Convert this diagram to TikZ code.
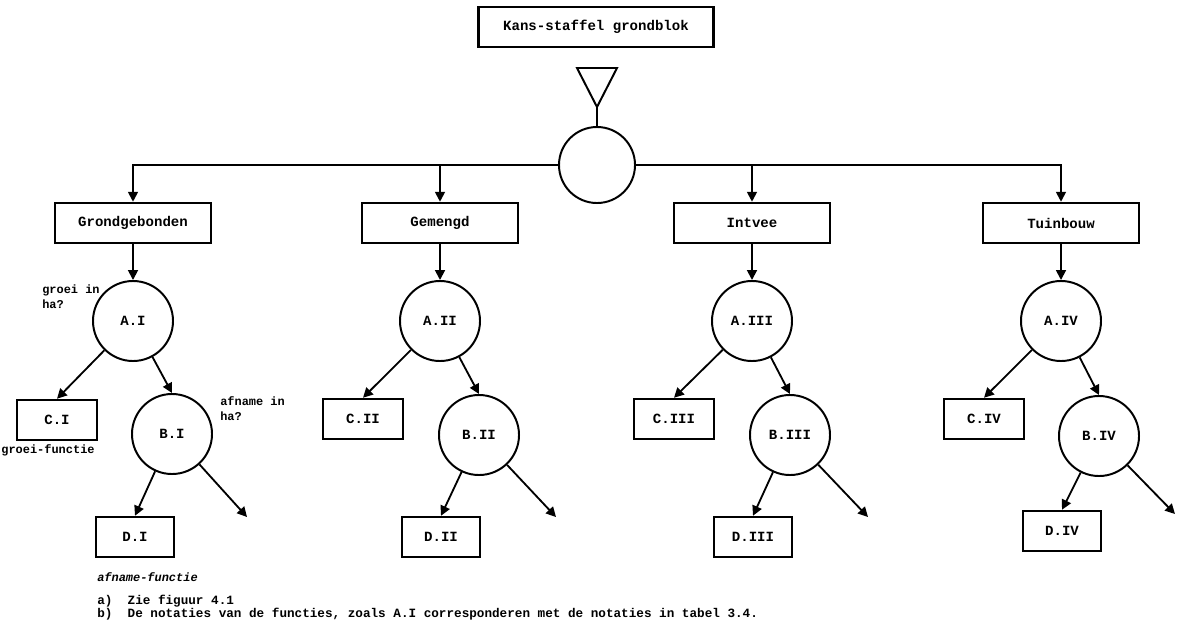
\documentclass[tikz,border=0pt]{standalone}
\usepackage{fontspec}
\setmonofont{Liberation Mono}
\usetikzlibrary{arrows.meta}

\begin{document}
\begin{tikzpicture}[x=0.025cm,y=-0.025cm,>={Triangle[length=7pt,width=7pt]},
  font=\ttfamily\bfseries\fontsize{10}{11}\selectfont,
  catbox/.style={rectangle,draw=black,line width=1.8pt,minimum width=3.9cm,minimum height=1cm,inner sep=2pt},
  funcbox/.style={rectangle,draw=black,line width=1.8pt,minimum width=1.95cm,minimum height=1cm,inner sep=2pt},
  choice/.style={circle,draw=black,line width=1.4pt,minimum size=2cm,inner sep=0pt},
  link/.style={->,draw=black,line width=1.3pt},
  note/.style={align=left,inner sep=0pt,font=\ttfamily\bfseries\fontsize{8.5}{10.5}\selectfont}]
\useasboundingbox (0,0) rectangle (1183,627);
% top of the tree
\node[catbox,minimum width=5.875cm] (top) at (596,27) {Kans-staffel grondblok};
\draw[line width=1.4pt] (577,68) -- (617,68) -- (597,107) -- cycle;
\coordinate (tip) at (597,107);
\node[choice,minimum size=1.9cm] (hub) at (597,165) {};
\draw[line width=1.3pt] (tip) -- (hub);
% the four categories
\node[catbox] (g1) at (133,223) {Grondgebonden};
\node[catbox] (g2) at (440,223) {Gemengd};
\node[catbox] (g3) at (752,223) {Intvee};
\node[catbox] (g4) at (1061,223) {Tuinbouw};
\draw[link] (hub.west) -| (g1.north);
\draw[link] (hub.west) -| (g2.north);
\draw[link] (hub.east) -| (g3.north);
\draw[link] (hub.east) -| (g4.north);
% column I
\node[choice] (a1) at (133,321) {A.I};
\node[funcbox,minimum width=2cm] (c1) at (57,420) {C.I};
\node[choice] (b1) at (172,434) {B.I};
\node[funcbox] (d1) at (135,537) {D.I};
\coordinate (e1) at (247,517);
% column II
\node[choice] (a2) at (440,321) {A.II};
\node[funcbox,minimum width=2cm] (c2) at (363,419) {C.II};
\node[choice] (b2) at (479,435) {B.II};
\node[funcbox] (d2) at (441,537) {D.II};
\coordinate (e2) at (556,517);
% column III
\node[choice] (a3) at (752,321) {A.III};
\node[funcbox,minimum width=2cm] (c3) at (674,419) {C.III};
\node[choice] (b3) at (790,435) {B.III};
\node[funcbox] (d3) at (753,537) {D.III};
\coordinate (e3) at (868,517);
% column IV
\node[choice] (a4) at (1061,321) {A.IV};
\node[funcbox,minimum width=2cm] (c4) at (984,419) {C.IV};
\node[choice] (b4) at (1099,436) {B.IV};
\node[funcbox] (d4) at (1062,531) {D.IV};
\coordinate (e4) at (1175,514);
\draw[link] (g1) -- (a1);
\draw[link] (g2) -- (a2);
\draw[link] (g3) -- (a3);
\draw[link] (g4) -- (a4);
\draw[link] (a1) -- (c1.north);
\draw[link] (a1) -- (b1.north);
\draw[link] (b1) -- (d1.north);
\draw[link] (b1) -- (e1);
\draw[link] (a2) -- (c2.north);
\draw[link] (a2) -- (b2.north);
\draw[link] (b2) -- (d2.north);
\draw[link] (b2) -- (e2);
\draw[link] (a3) -- (c3.north);
\draw[link] (a3) -- (b3.north);
\draw[link] (b3) -- (d3.north);
\draw[link] (b3) -- (e3);
\draw[link] (a4) -- (c4.north);
\draw[link] (a4) -- (b4.north);
\draw[link] (b4) -- (d4.north);
\draw[link] (b4) -- (e4);
% remarks
\node[note,anchor=west] (q1) at (42,297) {groei in\\ha?};
\node[note,anchor=west] (q2) at (220,409) {afname in\\ha?};
\node[note] (f1) at (48,450) {groei-functie};
\node[note,anchor=west,font=\ttfamily\bfseries\fontsize{8.5}{10}\selectfont\itshape] (f2) at (97,577) {afname-functie};
\node[note,anchor=west,font=\ttfamily\bfseries\fontsize{9}{10}\selectfont] (n1) at (97,601) {a)\ \ Zie figuur 4.1};
\node[note,anchor=west,font=\ttfamily\bfseries\fontsize{9}{10}\selectfont] (n2) at (97,614) {b)\ \ De notaties van de functies, zoals A.I corresponderen met de notaties in tabel 3.4.};
\end{tikzpicture}
\end{document}
